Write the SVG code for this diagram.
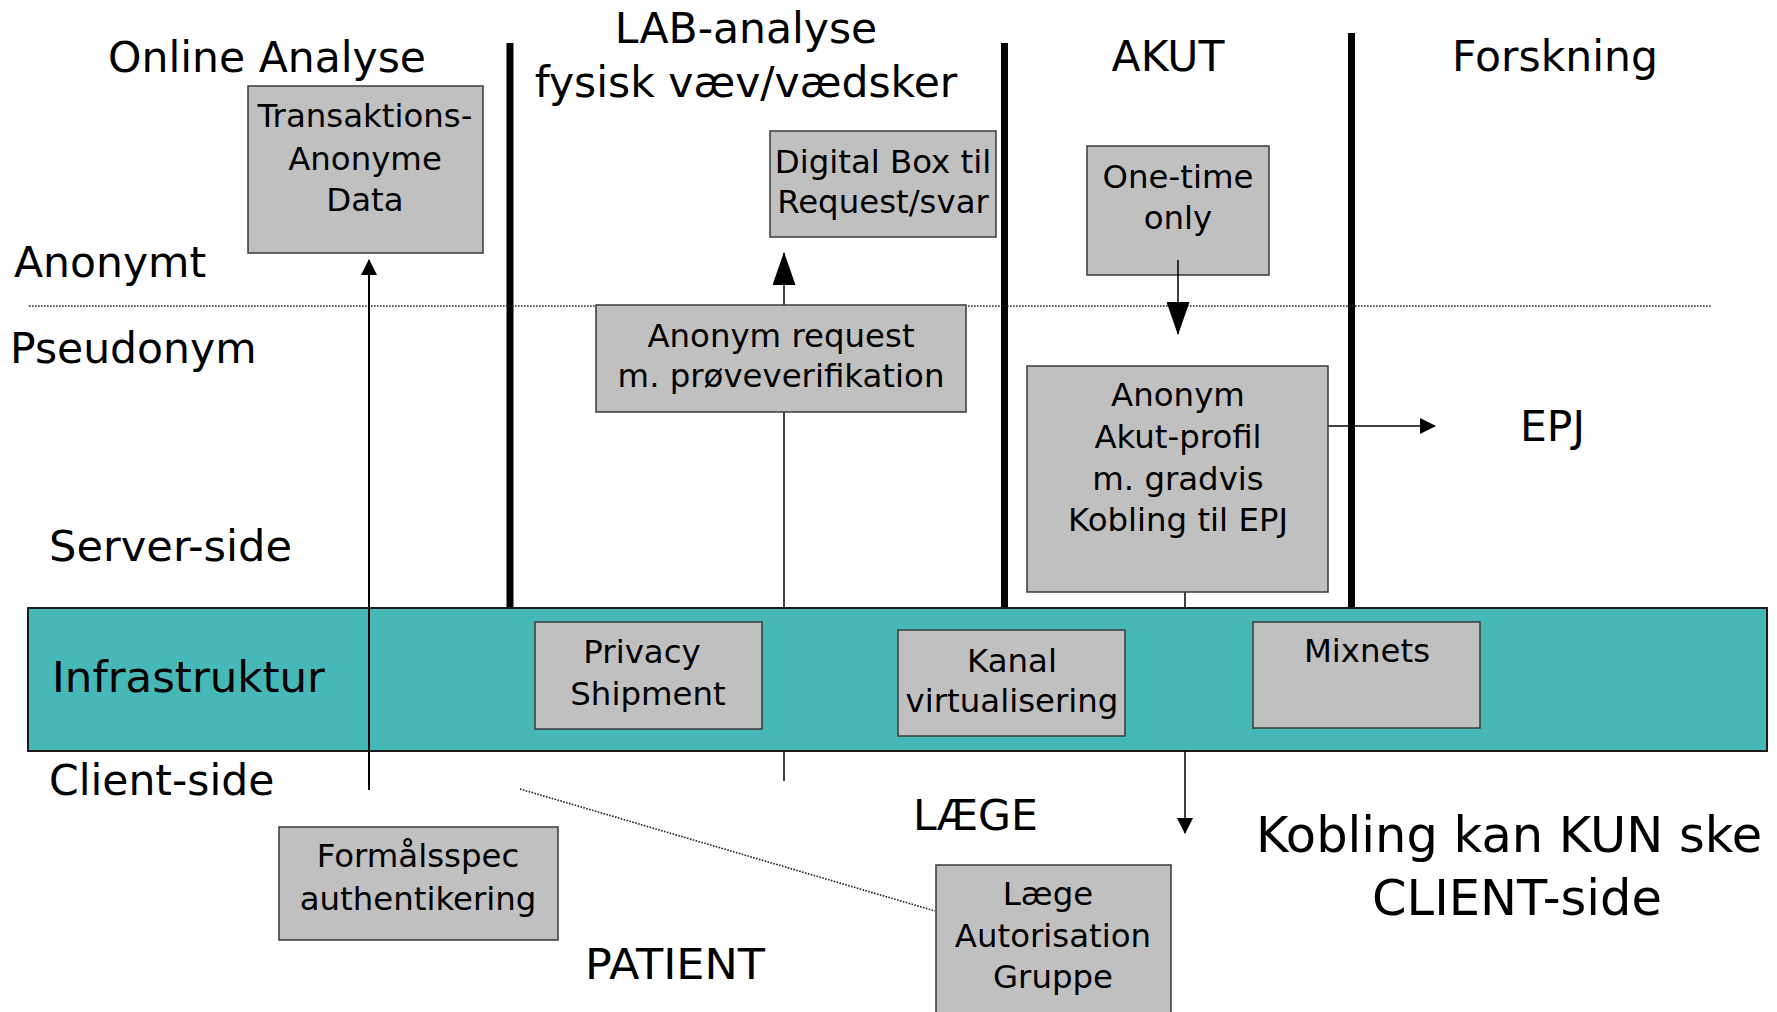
<svg xmlns="http://www.w3.org/2000/svg" width="1777" height="1012" viewBox="0 0 1777 1012">
  <style>
    text { font-family: "DejaVu Sans", Verdana, sans-serif; fill: #000; }
    .head { font-size: 42.5px; }
    .big { font-size: 49.5px; }
    .lbl { font-size: 32.4px; text-anchor: middle; }
    .mid { text-anchor: middle; }
    .box { fill: #C0C0C0; stroke: #3a3a3a; stroke-width: 1.5; }
    .band { fill: #47B8B8; stroke: #1a1a1a; stroke-width: 2; }
    .divider { stroke: #000; stroke-width: 7; }
    .dots { stroke: #222; stroke-width: 1.6; stroke-dasharray: 1.6 1.4; fill: none; }
    .wire { stroke: #000; stroke-width: 1.5; fill: none; }
  </style>
  <defs>
    <marker id="headS" viewBox="0 0 16 16" refX="15" refY="8" markerUnits="userSpaceOnUse" markerWidth="16" markerHeight="16" orient="auto">
      <path d="M0,0 L16,8 L0,16 Z" fill="#000"/>
    </marker>
    <marker id="headL" viewBox="0 0 33 23" refX="32" refY="11.5" markerUnits="userSpaceOnUse" markerWidth="33" markerHeight="23" orient="auto">
      <path d="M0,0 L33,11.5 L0,23 Z" fill="#000"/>
    </marker>
  </defs>

  <!-- column dividers -->
  <g id="dividers">
    <line class="divider" x1="510" y1="43" x2="510" y2="608"/>
    <line class="divider" x1="1004.5" y1="43" x2="1004.5" y2="608"/>
    <line class="divider" x1="1351.5" y1="33" x2="1351.5" y2="608"/>
  </g>

  <!-- anonymous / pseudonymous boundary -->
  <line id="boundary" class="dots" x1="29" y1="306" x2="1711" y2="306"/>

  <!-- column and zone headings -->
  <g id="headings">
    <text class="head mid" x="267" y="72">Online Analyse</text>
    <text class="head mid" x="746" y="43">LAB-analyse</text>
    <text class="head mid" x="746" y="97">fysisk væv/vædsker</text>
    <text class="head mid" x="1168" y="71">AKUT</text>
    <text class="head mid" x="1555" y="71">Forskning</text>
    <text class="head" x="14" y="277">Anonymt</text>
    <text class="head" x="10" y="363">Pseudonym</text>
    <text class="head" x="49" y="561" textLength="243" lengthAdjust="spacingAndGlyphs">Server-side</text>
    <text class="head" x="49" y="795">Client-side</text>
    <text class="head" x="1520" y="441">EPJ</text>
    <text class="head" x="913" y="830">LÆGE</text>
    <text class="head" x="585" y="979" textLength="180" lengthAdjust="spacingAndGlyphs">PATIENT</text>
    <text class="big mid" x="1509" y="852">Kobling kan KUN ske</text>
    <text class="big mid" x="1517" y="915">CLIENT-side</text>
  </g>

  <!-- connectors drawn beneath the infrastructure band -->
  <g id="connectors-under">
    <line class="wire" x1="784" y1="781" x2="784" y2="412"/>
    <line class="wire" x1="784" y1="305" x2="784" y2="253" marker-end="url(#headL)"/>
    <line class="wire" x1="1185" y1="592" x2="1185" y2="610"/>
  </g>

  <!-- infrastructure band -->
  <g id="infrastruktur">
    <rect class="band" x="28" y="608" width="1739" height="143"/>
    <text class="head" x="52" y="692" textLength="273" lengthAdjust="spacingAndGlyphs">Infrastruktur</text>
  </g>

  <!-- connectors -->
  <g id="connectors">
    <line class="wire" style="stroke-width:2" x1="369" y1="790" x2="369" y2="260" marker-end="url(#headS)"/>
    <line class="wire" x1="1328" y1="426" x2="1435" y2="426" marker-end="url(#headS)"/>
    <line class="wire" x1="1185" y1="751" x2="1185" y2="833" marker-end="url(#headS)"/>
    <line class="dots" x1="520" y1="789" x2="935" y2="911"/>
  </g>

  <!-- nodes -->
  <g id="transaktions">
    <rect class="box" x="248" y="86" width="235" height="167"/>
    <text class="lbl" x="365" y="127">Transaktions-</text>
    <text class="lbl" x="365" y="170">Anonyme</text>
    <text class="lbl" x="365" y="211">Data</text>
  </g>
  <g id="digital-box">
    <rect class="box" x="770" y="131" width="226" height="106"/>
    <text class="lbl" x="883" y="173">Digital Box til</text>
    <text class="lbl" x="883" y="213">Request/svar</text>
  </g>
  <g id="one-time">
    <rect class="box" x="1087" y="146" width="182" height="129"/>
    <text class="lbl" x="1178" y="188">One-time</text>
    <text class="lbl" x="1178" y="229">only</text>
  </g>
  <g id="anonym-request">
    <rect class="box" x="596" y="305" width="370" height="107"/>
    <text class="lbl" x="781" y="347">Anonym request</text>
    <text class="lbl" x="781" y="387">m. prøveverifikation</text>
  </g>
  <g id="akut-profil">
    <rect class="box" x="1027" y="366" width="301" height="226"/>
    <text class="lbl" x="1178" y="406">Anonym</text>
    <text class="lbl" x="1178" y="448">Akut-profil</text>
    <text class="lbl" x="1178" y="490">m. gradvis</text>
    <text class="lbl" x="1178" y="531">Kobling til EPJ</text>
  </g>
  <g id="privacy-shipment">
    <rect class="box" x="535" y="622" width="227" height="107"/>
    <text class="lbl" x="642" y="663">Privacy</text>
    <text class="lbl" x="648" y="705">Shipment</text>
  </g>
  <g id="kanal">
    <rect class="box" x="898" y="630" width="227" height="106"/>
    <text class="lbl" x="1012" y="672">Kanal</text>
    <text class="lbl" x="1012" y="712">virtualisering</text>
  </g>
  <g id="mixnets">
    <rect class="box" x="1253" y="622" width="227" height="106"/>
    <text class="lbl" x="1367" y="662">Mixnets</text>
  </g>
  <g id="formaalsspec">
    <rect class="box" x="279" y="827" width="279" height="113"/>
    <text class="lbl" x="418" y="867">Formålsspec</text>
    <text class="lbl" x="418" y="910">authentikering</text>
  </g>
  <g id="laege-autorisation">
    <rect class="box" x="936" y="865" width="235" height="152"/>
    <text class="lbl" x="1048" y="905">Læge</text>
    <text class="lbl" x="1053" y="947">Autorisation</text>
    <text class="lbl" x="1053" y="988">Gruppe</text>
  </g>

  <!-- one-time arrow starts inside its box, so it is drawn over the nodes -->
  <g id="connectors-over">
    <line class="wire" x1="1178" y1="260" x2="1178" y2="334" marker-end="url(#headL)"/>
  </g>
</svg>
